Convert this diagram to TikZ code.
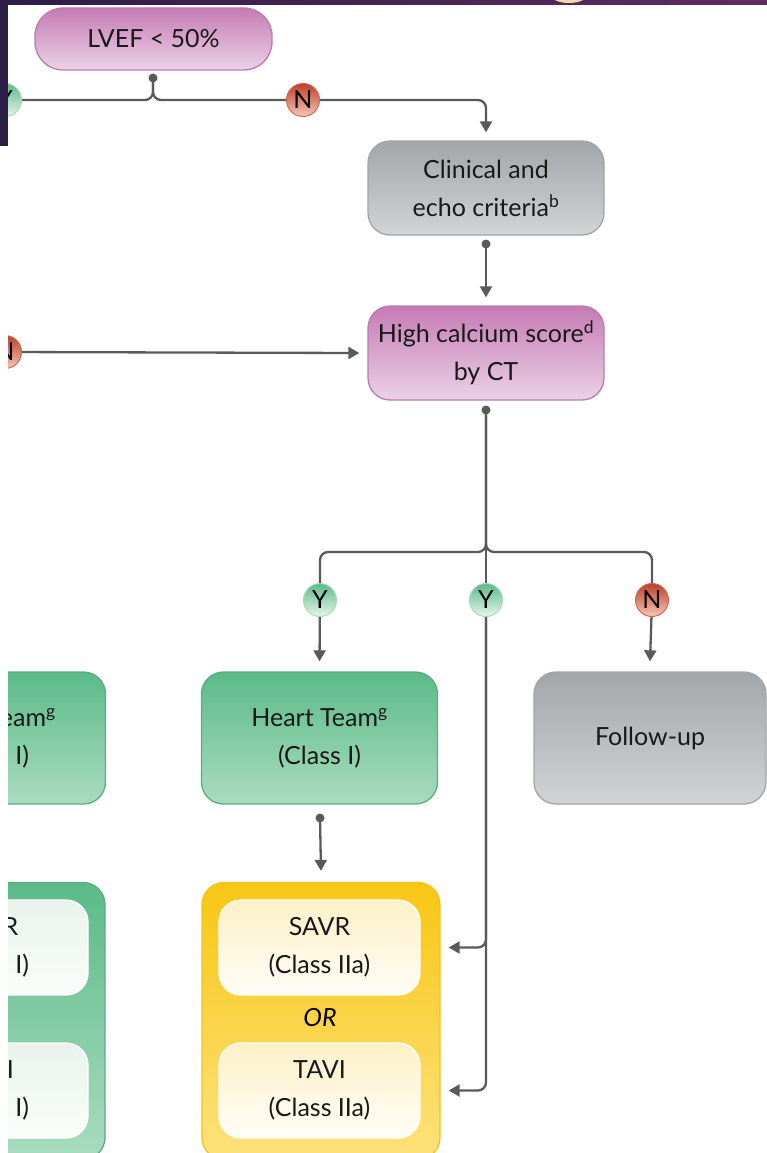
\documentclass[tikz,border=0pt]{standalone}
\usepackage{fontspec}
\setmainfont{Lato}
\usetikzlibrary{arrows.meta,calc}
\definecolor{lc}{HTML}{5A5A5A}
\definecolor{ptop}{HTML}{C57BB5}
\definecolor{pbot}{HTML}{EBD2E6}
\definecolor{pbrd}{HTML}{B97CAE}
\definecolor{gtop}{HTML}{A3A6A9}
\definecolor{gbot}{HTML}{D1D3D5}
\definecolor{gbrd}{HTML}{A2A4A7}
\definecolor{grtop}{HTML}{5BBA88}
\definecolor{grbot}{HTML}{AADCBF}
\definecolor{grbrd}{HTML}{5AAD80}
\definecolor{ytop}{HTML}{F8C614}
\definecolor{ybot}{HTML}{FCE27C}
\definecolor{ybrd}{HTML}{F2C41C}
\definecolor{itop}{HTML}{FEF1C8}
\definecolor{ibot}{HTML}{FFFDF6}
\definecolor{lgtop}{HTML}{E8F3EC}
\definecolor{lgbot}{HTML}{FBFDFB}
\definecolor{yctop}{HTML}{5CBA88}
\definecolor{ycbot}{HTML}{E6F5EC}
\definecolor{ycbrd}{HTML}{A6D9BA}
\definecolor{nctop}{HTML}{BE3F28}
\definecolor{ncbot}{HTML}{F7C6B8}
\definecolor{ncbrd}{HTML}{CC6A55}
\definecolor{dk1}{HTML}{2C1E44}
\definecolor{dk2}{HTML}{5E2C61}
\definecolor{peach}{HTML}{F6D8A8}
\newcommand\bxfont{\fontsize{25}{38}\selectfont}
\newcommand\ccfont{\fontsize{25}{26}\selectfont}
\tikzset{
  box/.style={rounded corners=22pt, draw, line width=1.3pt, minimum width=236pt,
    minimum height=94pt, align=center, font=\bxfont, text=black!90, inner sep=0pt},
  pbox/.style={box, draw=pbrd, top color=ptop, bottom color=pbot},
  gbox/.style={box, draw=gbrd, top color=gtop, bottom color=gbot},
  grbox/.style={box, draw=grbrd, top color=grtop, bottom color=grbot, minimum height=132pt},
  ybox/.style={box, draw=ybrd, top color=ytop, bottom color=ybot, minimum width=238pt, minimum height=277pt},
  lgbox/.style={box, draw=grbrd, top color=grtop, bottom color=grbot, minimum width=238pt, minimum height=277pt},
  inbox/.style={box, draw=white, top color=itop, bottom color=ibot, minimum width=201pt, minimum height=95pt},
  linbox/.style={box, draw=white, top color=lgtop, bottom color=lgbot, minimum width=201pt, minimum height=95pt},
  ycirc/.style={circle, draw=ycbrd, line width=1pt, top color=yctop, bottom color=ycbot, minimum size=33pt, inner sep=0pt, font=\ccfont},
  ncirc/.style={circle, draw=ncbrd, line width=1pt, top color=nctop, bottom color=ncbot, minimum size=33pt, inner sep=0pt, font=\ccfont},
  conn/.style={draw=lc, line width=2.3pt, rounded corners=8pt},
  arr/.style={-{Triangle[width=12pt,length=11pt]}},
  dotm/.style={fill=lc}
}
\begin{document}
\begin{tikzpicture}[x=1pt,y=-1pt]
\useasboundingbox (0,0) rectangle (767,1153);
\begin{scope}
\clip (8,0) rectangle (767,1153);
% boxes
\node[pbox, minimum width=237pt, minimum height=62pt, rounded corners=28pt] (lvef) at (153.5,39) {LVEF < 50\%};
\node[gbox] (clin) at (486,188) {Clinical and\\echo criteria\textsuperscript{b}};
\node[pbox] (calc) at (486,353) {High calcium score\textsuperscript{d}\\by CT};
\node[grbox] (ht) at (319.5,738) {Heart Team\textsuperscript{g}\\(Class I)};
\node[grbox] (htl) at (-12.5,738) {Heart Team\textsuperscript{g}\\(Class I)};
\node[gbox, minimum width=232pt, minimum height=132pt] (fu) at (650,738) {Follow-up};
\node[ybox] (yel) at (321,1021) {};
\node[inbox] (savr) at (319.5,947.5) {SAVR\\(Class IIa)};
\node[font=\bxfont\itshape, inner sep=0pt] (or) at (320,1018) {OR};
\node[inbox] (tavi) at (319.5,1090.5) {TAVI\\(Class IIa)};
\node[lgbox] (lgr) at (-14,1021) {};
\node[linbox] (lsavr) at (-12.5,947.5) {SAVR\\(Class I)};
\node[linbox] (ltavi) at (-12.5,1090.5) {TAVI\\(Class I)};
% circles
\node[ycirc] (y1) at (5,100) {Y};
\node[ncirc] (n1) at (303,100) {N};
\node[ncirc] (n2) at (5,352) {N};
\node[ycirc] (y2) at (320,600) {Y};
\node[ycirc] (y3) at (486,600) {Y};
\node[ncirc] (n3) at (652,600) {N};
% junction coordinates
\coordinate (d1) at (153,78);
\coordinate (d2) at (486,244);
\coordinate (d3) at (486,410);
\coordinate (d4) at (320,818);
\coordinate (j1) at (153,100);
\coordinate (j3) at (486,552);
% connectors
\draw[conn] (d1) -- (j1) -- (y1);
\draw[conn] (d1) -- (j1) -- (n1);
\draw[conn,arr] (n1) -- (clin.north |- n1) -- ([yshift=8pt]clin.north);
\draw[conn,arr] (d2) -- ([yshift=8pt]calc.north);
\draw[conn,arr] (n2) -- ([xshift=-8pt]calc.west);
\draw[conn] (d3) -- (j3) -- (y2 |- j3) -- (y2);
\draw[conn] (d3) -- (j3) -- (n3 |- j3) -- (n3);
\draw[conn] (d3) -- (y3);
\draw[conn,arr] (y2) -- ([yshift=10pt]ht.north);
\draw[conn,arr] (n3) -- ([yshift=10pt]fu.north);
\draw[conn,arr] (d4) -- ([yshift=11pt]yel.north);
\draw[conn,arr] (y3) -- (y3 |- savr.east) -- ($(yel.east |- savr.east)+(8,0)$);
\draw[conn,arr] (y3) -- (y3 |- tavi.east) -- ($(yel.east |- tavi.east)+(8,0)$);
% dots
\fill[dotm] (d1) circle (4.5pt);
\fill[dotm] (d2) circle (4.5pt);
\fill[dotm] (d3) circle (4.5pt);
\fill[dotm] (d4) circle (4.5pt);
\end{scope}
% dark frame
\begin{scope}
\clip (0,0) rectangle (767,1153);
\shade[left color=dk1, right color=dk2] (0,0) rectangle (767,4.5);
\fill[peach] (569,-6) ellipse (19pt and 9pt);
\fill[dk1] (0,0) rectangle (8,146);
\end{scope}
\end{tikzpicture}
\end{document}
